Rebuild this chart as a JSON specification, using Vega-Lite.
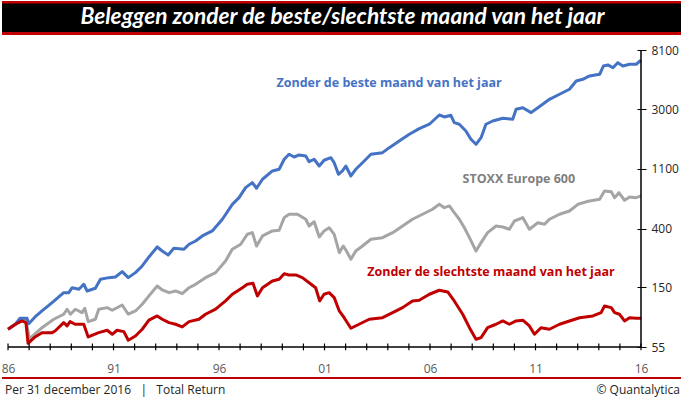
{
  "$schema": "https://vega.github.io/schema/vega-lite/v6.json",
  "padding": 0,
  "autosize": {"type": "pad"},
  "background": "white",
  "spacing": 15,
  "bounds": "flush",
  "config": {"view": {"stroke": null}, "font": "Open Sans", "axis": {"labelOverlap": false}},
  "datasets": {
    "reeksen": [
      {"jaar":1986.00,"waarde":74.1,"reeks":"stoxx"},{"jaar":1986.35,"waarde":80.6,"reeks":"stoxx"},{"jaar":1986.66,"waarde":86.7,"reeks":"stoxx"},{"jaar":1986.85,"waarde":87.4,"reeks":"stoxx"},{"jaar":1987.01,"waarde":63.0,"reeks":"stoxx"},{"jaar":1987.28,"waarde":68.5,"reeks":"stoxx"},{"jaar":1987.61,"waarde":76.1,"reeks":"stoxx"},{"jaar":1988.17,"waarde":87.7,"reeks":"stoxx"},{"jaar":1988.64,"waarde":95.4,"reeks":"stoxx"},{"jaar":1988.80,"waarde":103.8,"reeks":"stoxx"},{"jaar":1988.96,"waarde":95.4,"reeks":"stoxx"},{"jaar":1989.19,"waarde":103.8,"reeks":"stoxx"},{"jaar":1989.51,"waarde":98.0,"reeks":"stoxx"},{"jaar":1989.64,"waarde":105.5,"reeks":"stoxx"},{"jaar":1989.80,"waarde":84.2,"reeks":"stoxx"},{"jaar":1990.14,"waarde":87.7,"reeks":"stoxx"},{"jaar":1990.30,"waarde":103.8,"reeks":"stoxx"},{"jaar":1990.70,"waarde":106.6,"reeks":"stoxx"},{"jaar":1990.94,"waarde":102.0,"reeks":"stoxx"},{"jaar":1991.41,"waarde":111.4,"reeks":"stoxx"},{"jaar":1991.70,"waarde":95.4,"reeks":"stoxx"},{"jaar":1992.04,"waarde":100.8,"reeks":"stoxx"},{"jaar":1992.36,"waarde":112.8,"reeks":"stoxx"},{"jaar":1992.68,"waarde":129.8,"reeks":"stoxx"},{"jaar":1993.07,"waarde":153.3,"reeks":"stoxx"},{"jaar":1993.31,"waarde":143.5,"reeks":"stoxx"},{"jaar":1993.63,"waarde":137.1,"reeks":"stoxx"},{"jaar":1993.94,"waarde":141.1,"reeks":"stoxx"},{"jaar":1994.26,"waarde":134.8,"reeks":"stoxx"},{"jaar":1994.58,"waarde":149.0,"reeks":"stoxx"},{"jaar":1994.89,"waarde":157.8,"reeks":"stoxx"},{"jaar":1995.36,"waarde":176.5,"reeks":"stoxx"},{"jaar":1995.84,"waarde":192.0,"reeks":"stoxx"},{"jaar":1996.31,"waarde":233.7,"reeks":"stoxx"},{"jaar":1996.63,"waarde":284.5,"reeks":"stoxx"},{"jaar":1997.03,"waarde":309.4,"reeks":"stoxx"},{"jaar":1997.34,"waarde":365.7,"reeks":"stoxx"},{"jaar":1997.58,"waarde":375.9,"reeks":"stoxx"},{"jaar":1997.78,"waarde":300.4,"reeks":"stoxx"},{"jaar":1998.06,"waarde":355.7,"reeks":"stoxx"},{"jaar":1998.53,"waarde":387.0,"reeks":"stoxx"},{"jaar":1998.85,"waarde":391.5,"reeks":"stoxx"},{"jaar":1999.09,"waarde":483.8,"reeks":"stoxx"},{"jaar":1999.32,"waarde":512.3,"reeks":"stoxx"},{"jaar":1999.72,"waarde":512.3,"reeks":"stoxx"},{"jaar":2000.11,"waarde":471.1,"reeks":"stoxx"},{"jaar":2000.27,"waarde":420.4,"reeks":"stoxx"},{"jaar":2000.51,"waarde":451.8,"reeks":"stoxx"},{"jaar":2000.75,"waarde":349.8,"reeks":"stoxx"},{"jaar":2000.98,"waarde":387.0,"reeks":"stoxx"},{"jaar":2001.22,"waarde":408.5,"reeks":"stoxx"},{"jaar":2001.46,"waarde":365.7,"reeks":"stoxx"},{"jaar":2001.70,"waarde":268.5,"reeks":"stoxx"},{"jaar":2001.89,"waarde":300.4,"reeks":"stoxx"},{"jaar":2002.04,"waarde":276.3,"reeks":"stoxx"},{"jaar":2002.25,"waarde":240.4,"reeks":"stoxx"},{"jaar":2002.48,"waarde":276.3,"reeks":"stoxx"},{"jaar":2002.80,"waarde":300.4,"reeks":"stoxx"},{"jaar":2003.20,"waarde":336.3,"reeks":"stoxx"},{"jaar":2003.75,"waarde":345.7,"reeks":"stoxx"},{"jaar":2004.23,"waarde":375.9,"reeks":"stoxx"},{"jaar":2004.70,"waarde":420.4,"reeks":"stoxx"},{"jaar":2005.17,"waarde":471.1,"reeks":"stoxx"},{"jaar":2005.65,"waarde":512.3,"reeks":"stoxx"},{"jaar":2006.12,"waarde":557.0,"reeks":"stoxx"},{"jaar":2006.44,"waarde":605.4,"reeks":"stoxx"},{"jaar":2006.68,"waarde":572.5,"reeks":"stoxx"},{"jaar":2006.92,"waarde":588.9,"reeks":"stoxx"},{"jaar":2007.15,"waarde":526.3,"reeks":"stoxx"},{"jaar":2007.39,"waarde":471.1,"reeks":"stoxx"},{"jaar":2007.63,"waarde":408.5,"reeks":"stoxx"},{"jaar":2007.87,"waarde":345.7,"reeks":"stoxx"},{"jaar":2008.18,"waarde":276.3,"reeks":"stoxx"},{"jaar":2008.42,"waarde":317.9,"reeks":"stoxx"},{"jaar":2008.73,"waarde":375.9,"reeks":"stoxx"},{"jaar":2009.13,"waarde":420.4,"reeks":"stoxx"},{"jaar":2009.45,"waarde":413.4,"reeks":"stoxx"},{"jaar":2009.76,"waarde":398.0,"reeks":"stoxx"},{"jaar":2010.00,"waarde":457.2,"reeks":"stoxx"},{"jaar":2010.40,"waarde":483.8,"reeks":"stoxx"},{"jaar":2010.71,"waarde":398.0,"reeks":"stoxx"},{"jaar":2011.11,"waarde":444.3,"reeks":"stoxx"},{"jaar":2011.43,"waarde":432.5,"reeks":"stoxx"},{"jaar":2011.66,"waarde":471.1,"reeks":"stoxx"},{"jaar":2012.14,"waarde":512.3,"reeks":"stoxx"},{"jaar":2012.61,"waarde":541.2,"reeks":"stoxx"},{"jaar":2013.01,"waarde":605.4,"reeks":"stoxx"},{"jaar":2013.56,"waarde":640.7,"reeks":"stoxx"},{"jaar":2014.04,"waarde":658.9,"reeks":"stoxx"},{"jaar":2014.27,"waarde":757.7,"reeks":"stoxx"},{"jaar":2014.59,"waarde":748.5,"reeks":"stoxx"},{"jaar":2014.75,"waarde":676.7,"reeks":"stoxx"},{"jaar":2014.95,"waarde":735.9,"reeks":"stoxx"},{"jaar":2015.22,"waarde":648.2,"reeks":"stoxx"},{"jaar":2015.46,"waarde":685.0,"reeks":"stoxx"},{"jaar":2015.77,"waarde":676.7,"reeks":"stoxx"},{"jaar":2016.00,"waarde":696.8,"reeks":"stoxx"},
      {"jaar":1986.00,"waarde":74.1,"reeks":"beste"},{"jaar":1986.35,"waarde":80.6,"reeks":"beste"},{"jaar":1986.57,"waarde":89.2,"reeks":"beste"},{"jaar":1986.90,"waarde":89.2,"reeks":"beste"},{"jaar":1986.98,"waarde":81.4,"reeks":"beste"},{"jaar":1987.28,"waarde":91.1,"reeks":"beste"},{"jaar":1987.61,"waarde":100.8,"reeks":"beste"},{"jaar":1988.09,"waarde":116.0,"reeks":"beste"},{"jaar":1988.64,"waarde":137.1,"reeks":"beste"},{"jaar":1988.88,"waarde":137.1,"reeks":"beste"},{"jaar":1989.04,"waarde":149.0,"reeks":"beste"},{"jaar":1989.36,"waarde":145.2,"reeks":"beste"},{"jaar":1989.59,"waarde":157.8,"reeks":"beste"},{"jaar":1989.75,"waarde":141.1,"reeks":"beste"},{"jaar":1990.14,"waarde":147.6,"reeks":"beste"},{"jaar":1990.38,"waarde":171.6,"reeks":"beste"},{"jaar":1990.78,"waarde":176.5,"reeks":"beste"},{"jaar":1991.09,"waarde":178.5,"reeks":"beste"},{"jaar":1991.41,"waarde":195.2,"reeks":"beste"},{"jaar":1991.70,"waarde":176.5,"reeks":"beste"},{"jaar":1992.04,"waarde":192.0,"reeks":"beste"},{"jaar":1992.36,"waarde":214.8,"reeks":"beste"},{"jaar":1992.68,"waarde":249.8,"reeks":"beste"},{"jaar":1993.07,"waarde":295.6,"reeks":"beste"},{"jaar":1993.31,"waarde":276.3,"reeks":"beste"},{"jaar":1993.59,"waarde":258.5,"reeks":"beste"},{"jaar":1993.86,"waarde":289.3,"reeks":"beste"},{"jaar":1994.34,"waarde":284.5,"reeks":"beste"},{"jaar":1994.58,"waarde":309.4,"reeks":"beste"},{"jaar":1994.89,"waarde":326.9,"reeks":"beste"},{"jaar":1995.21,"waarde":355.7,"reeks":"beste"},{"jaar":1995.68,"waarde":387.0,"reeks":"beste"},{"jaar":1996.16,"waarde":471.1,"reeks":"beste"},{"jaar":1996.63,"waarde":605.4,"reeks":"beste"},{"jaar":1996.95,"waarde":676.7,"reeks":"beste"},{"jaar":1997.26,"waarde":800.9,"reeks":"beste"},{"jaar":1997.58,"waarde":871.4,"reeks":"beste"},{"jaar":1997.78,"waarde":793.0,"reeks":"beste"},{"jaar":1998.06,"waarde":922.2,"reeks":"beste"},{"jaar":1998.53,"waarde":1060.8,"reeks":"beste"},{"jaar":1998.85,"waarde":1090.9,"reeks":"beste"},{"jaar":1999.09,"waarde":1291.4,"reeks":"beste"},{"jaar":1999.32,"waarde":1404.5,"reeks":"beste"},{"jaar":1999.56,"waarde":1340.9,"reeks":"beste"},{"jaar":1999.80,"waarde":1387.7,"reeks":"beste"},{"jaar":2000.11,"waarde":1363.9,"reeks":"beste"},{"jaar":2000.27,"waarde":1239.5,"reeks":"beste"},{"jaar":2000.51,"waarde":1291.4,"reeks":"beste"},{"jaar":2000.75,"waarde":1152.3,"reeks":"beste"},{"jaar":2000.98,"waarde":1269.9,"reeks":"beste"},{"jaar":2001.30,"waarde":1326.0,"reeks":"beste"},{"jaar":2001.46,"waarde":1218.0,"reeks":"beste"},{"jaar":2001.66,"waarde":1002.4,"reeks":"beste"},{"jaar":2001.85,"waarde":1060.8,"reeks":"beste"},{"jaar":2002.01,"waarde":1152.3,"reeks":"beste"},{"jaar":2002.25,"waarde":975.1,"reeks":"beste"},{"jaar":2002.48,"waarde":1090.9,"reeks":"beste"},{"jaar":2002.80,"waarde":1218.0,"reeks":"beste"},{"jaar":2003.20,"waarde":1404.5,"reeks":"beste"},{"jaar":2003.75,"waarde":1442.7,"reeks":"beste"},{"jaar":2004.07,"waarde":1569.3,"reeks":"beste"},{"jaar":2004.54,"waarde":1756.1,"reeks":"beste"},{"jaar":2005.02,"waarde":1965.1,"reeks":"beste"},{"jaar":2005.49,"waarde":2159.5,"reeks":"beste"},{"jaar":2005.97,"waarde":2325.4,"reeks":"beste"},{"jaar":2006.44,"waarde":2715.8,"reeks":"beste"},{"jaar":2006.68,"waarde":2628.6,"reeks":"beste"},{"jaar":2006.99,"waarde":2702.6,"reeks":"beste"},{"jaar":2007.15,"waarde":2388.4,"reeks":"beste"},{"jaar":2007.39,"waarde":2325.4,"reeks":"beste"},{"jaar":2007.70,"waarde":2077.5,"reeks":"beste"},{"jaar":2007.94,"waarde":1805.8,"reeks":"beste"},{"jaar":2008.18,"waarde":1660.1,"reeks":"beste"},{"jaar":2008.42,"waarde":1855.8,"reeks":"beste"},{"jaar":2008.65,"waarde":2325.4,"reeks":"beste"},{"jaar":2008.97,"waarde":2455.2,"reeks":"beste"},{"jaar":2009.45,"waarde":2572.3,"reeks":"beste"},{"jaar":2009.92,"waarde":2528.9,"reeks":"beste"},{"jaar":2010.08,"waarde":2988.8,"reeks":"beste"},{"jaar":2010.40,"waarde":3070.2,"reeks":"beste"},{"jaar":2010.79,"waarde":2826.1,"reeks":"beste"},{"jaar":2011.11,"waarde":3070.2,"reeks":"beste"},{"jaar":2011.34,"waarde":3250.6,"reeks":"beste"},{"jaar":2011.66,"waarde":3535.6,"reeks":"beste"},{"jaar":2012.14,"waarde":3850.3,"reeks":"beste"},{"jaar":2012.61,"waarde":4187.5,"reeks":"beste"},{"jaar":2012.93,"waarde":4813.7,"reeks":"beste"},{"jaar":2013.24,"waarde":4948.5,"reeks":"beste"},{"jaar":2013.56,"waarde":5237.3,"reeks":"beste"},{"jaar":2014.04,"waarde":5386.3,"reeks":"beste"},{"jaar":2014.22,"waarde":6193.4,"reeks":"beste"},{"jaar":2014.43,"waarde":6301.0,"reeks":"beste"},{"jaar":2014.67,"waarde":6015.7,"reeks":"beste"},{"jaar":2014.90,"waarde":6546.3,"reeks":"beste"},{"jaar":2015.14,"waarde":6193.4,"reeks":"beste"},{"jaar":2015.46,"waarde":6375.1,"reeks":"beste"},{"jaar":2015.77,"waarde":6375.1,"reeks":"beste"},{"jaar":2016.00,"waarde":6815.8,"reeks":"beste"},
      {"jaar":1986.00,"waarde":74.1,"reeks":"slechtste"},{"jaar":1986.35,"waarde":80.6,"reeks":"slechtste"},{"jaar":1986.66,"waarde":85.2,"reeks":"slechtste"},{"jaar":1986.85,"waarde":82.8,"reeks":"slechtste"},{"jaar":1986.95,"waarde":58.5,"reeks":"slechtste"},{"jaar":1987.28,"waarde":65.1,"reeks":"slechtste"},{"jaar":1987.61,"waarde":70.0,"reeks":"slechtste"},{"jaar":1988.09,"waarde":70.0,"reeks":"slechtste"},{"jaar":1988.23,"waarde":72.0,"reeks":"slechtste"},{"jaar":1988.64,"waarde":82.8,"reeks":"slechtste"},{"jaar":1988.80,"waarde":78.4,"reeks":"slechtste"},{"jaar":1988.94,"waarde":84.2,"reeks":"slechtste"},{"jaar":1989.18,"waarde":80.6,"reeks":"slechtste"},{"jaar":1989.59,"waarde":80.6,"reeks":"slechtste"},{"jaar":1989.80,"waarde":65.1,"reeks":"slechtste"},{"jaar":1990.30,"waarde":70.0,"reeks":"slechtste"},{"jaar":1990.70,"waarde":72.9,"reeks":"slechtste"},{"jaar":1990.94,"waarde":68.1,"reeks":"slechtste"},{"jaar":1991.17,"waarde":72.9,"reeks":"slechtste"},{"jaar":1991.49,"waarde":71.2,"reeks":"slechtste"},{"jaar":1991.70,"waarde":61.6,"reeks":"slechtste"},{"jaar":1992.04,"waarde":66.2,"reeks":"slechtste"},{"jaar":1992.36,"waarde":74.1,"reeks":"slechtste"},{"jaar":1992.68,"waarde":86.3,"reeks":"slechtste"},{"jaar":1993.07,"waarde":92.7,"reeks":"slechtste"},{"jaar":1993.31,"waarde":87.7,"reeks":"slechtste"},{"jaar":1993.63,"waarde":82.8,"reeks":"slechtste"},{"jaar":1993.94,"waarde":80.6,"reeks":"slechtste"},{"jaar":1994.26,"waarde":77.1,"reeks":"slechtste"},{"jaar":1994.58,"waarde":84.2,"reeks":"slechtste"},{"jaar":1995.05,"waarde":87.7,"reeks":"slechtste"},{"jaar":1995.36,"waarde":95.4,"reeks":"slechtste"},{"jaar":1995.84,"waarde":103.8,"reeks":"slechtste"},{"jaar":1996.31,"waarde":119.3,"reeks":"slechtste"},{"jaar":1996.63,"waarde":133.5,"reeks":"slechtste"},{"jaar":1997.11,"waarde":149.0,"reeks":"slechtste"},{"jaar":1997.34,"waarde":157.8,"reeks":"slechtste"},{"jaar":1997.61,"waarde":160.5,"reeks":"slechtste"},{"jaar":1997.82,"waarde":129.8,"reeks":"slechtste"},{"jaar":1998.06,"waarde":149.0,"reeks":"slechtste"},{"jaar":1998.53,"waarde":166.7,"reeks":"slechtste"},{"jaar":1998.85,"waarde":171.6,"reeks":"slechtste"},{"jaar":1999.09,"waarde":188.3,"reeks":"slechtste"},{"jaar":1999.32,"waarde":184.6,"reeks":"slechtste"},{"jaar":1999.64,"waarde":184.6,"reeks":"slechtste"},{"jaar":1999.95,"waarde":176.5,"reeks":"slechtste"},{"jaar":2000.27,"waarde":162.1,"reeks":"slechtste"},{"jaar":2000.58,"waarde":149.0,"reeks":"slechtste"},{"jaar":2000.77,"waarde":119.3,"reeks":"slechtste"},{"jaar":2000.98,"waarde":133.5,"reeks":"slechtste"},{"jaar":2001.22,"waarde":137.1,"reeks":"slechtste"},{"jaar":2001.46,"waarde":126.1,"reeks":"slechtste"},{"jaar":2001.70,"waarde":100.8,"reeks":"slechtste"},{"jaar":2001.93,"waarde":90.0,"reeks":"slechtste"},{"jaar":2002.25,"waarde":75.4,"reeks":"slechtste"},{"jaar":2002.64,"waarde":80.6,"reeks":"slechtste"},{"jaar":2003.12,"waarde":87.7,"reeks":"slechtste"},{"jaar":2003.75,"waarde":90.0,"reeks":"slechtste"},{"jaar":2004.23,"waarde":98.0,"reeks":"slechtste"},{"jaar":2004.70,"waarde":106.6,"reeks":"slechtste"},{"jaar":2005.17,"waarde":119.3,"reeks":"slechtste"},{"jaar":2005.49,"waarde":120.6,"reeks":"slechtste"},{"jaar":2005.97,"waarde":133.5,"reeks":"slechtste"},{"jaar":2006.44,"waarde":142.8,"reeks":"slechtste"},{"jaar":2006.84,"waarde":138.7,"reeks":"slechtste"},{"jaar":2007.15,"waarde":119.3,"reeks":"slechtste"},{"jaar":2007.55,"waarde":95.4,"reeks":"slechtste"},{"jaar":2007.87,"waarde":76.1,"reeks":"slechtste"},{"jaar":2008.18,"waarde":62.7,"reeks":"slechtste"},{"jaar":2008.42,"waarde":64.4,"reeks":"slechtste"},{"jaar":2008.73,"waarde":76.1,"reeks":"slechtste"},{"jaar":2009.13,"waarde":80.6,"reeks":"slechtste"},{"jaar":2009.45,"waarde":85.2,"reeks":"slechtste"},{"jaar":2009.76,"waarde":80.6,"reeks":"slechtste"},{"jaar":2010.08,"waarde":85.2,"reeks":"slechtste"},{"jaar":2010.40,"waarde":86.3,"reeks":"slechtste"},{"jaar":2010.71,"waarde":78.4,"reeks":"slechtste"},{"jaar":2010.95,"waarde":68.1,"reeks":"slechtste"},{"jaar":2011.26,"waarde":76.1,"reeks":"slechtste"},{"jaar":2011.66,"waarde":74.1,"reeks":"slechtste"},{"jaar":2012.14,"waarde":80.6,"reeks":"slechtste"},{"jaar":2012.61,"waarde":85.2,"reeks":"slechtste"},{"jaar":2013.09,"waarde":90.0,"reeks":"slechtste"},{"jaar":2013.72,"waarde":92.7,"reeks":"slechtste"},{"jaar":2014.11,"waarde":98.0,"reeks":"slechtste"},{"jaar":2014.27,"waarde":109.6,"reeks":"slechtste"},{"jaar":2014.59,"waarde":106.6,"reeks":"slechtste"},{"jaar":2014.75,"waarde":98.0,"reeks":"slechtste"},{"jaar":2014.98,"waarde":95.4,"reeks":"slechtste"},{"jaar":2015.22,"waarde":85.2,"reeks":"slechtste"},{"jaar":2015.46,"waarde":90.0,"reeks":"slechtste"},{"jaar":2015.77,"waarde":89.2,"reeks":"slechtste"},{"jaar":2016.00,"waarde":89.2,"reeks":"slechtste"}
    ],
    "labels": [
      {"reeks":"beste","label":"Zonder de beste maand van het jaar","jaar":2004.06,"waarde":4679},
      {"reeks":"stoxx","label":"STOXX Europe 600","jaar":2010.21,"waarde":932},
      {"reeks":"slechtste","label":"Zonder de slechtste maand van het jaar","jaar":2008.89,"waarde":194}
    ],
    "jaren": [
      {"jaar":1986},{"jaar":1987},{"jaar":1988},{"jaar":1989},{"jaar":1990},{"jaar":1991},{"jaar":1992},{"jaar":1993},{"jaar":1994},{"jaar":1995},{"jaar":1996},{"jaar":1997},{"jaar":1998},{"jaar":1999},{"jaar":2000},{"jaar":2001},{"jaar":2002},{"jaar":2003},{"jaar":2004},{"jaar":2005},{"jaar":2006},{"jaar":2007},{"jaar":2008},{"jaar":2009},{"jaar":2010},{"jaar":2011},{"jaar":2012},{"jaar":2013},{"jaar":2014},{"jaar":2015},{"jaar":2016}
    ]
  },
  "vconcat": [
    {
      "width": 681,
      "height": 34,
      "view": {"fill": "#000000", "stroke": null},
      "data": {"values": [{"titel": "Beleggen zonder de beste/slechtste maand van het jaar"}]},
      "layer": [
        {"mark": {"type": "rule", "color": "#C00000", "strokeWidth": 2.5},
         "encoding": {"y": {"datum": 32.75, "type": "quantitative", "scale": {"domain": [0, 34], "nice": false, "zero": false}, "axis": null}}},
        {"mark": {"type": "rule", "color": "#C00000", "strokeWidth": 3},
         "encoding": {"y": {"datum": 1.5, "type": "quantitative", "axis": null}}},
        {"mark": {"type": "text", "color": "#FFFFFF", "font": "Lato", "fontSize": 22.7, "fontWeight": "bold", "fontStyle": "italic", "baseline": "middle", "align": "center", "dy": -1},
         "encoding": {"text": {"field": "titel", "type": "nominal"}}}
      ]
    },
    {
      "width": 639,
      "height": 297,
      "layer": [
        {
          "data": {"name": "reeksen"},
          "mark": {"type": "line", "strokeWidth": 3, "strokeJoin": "round"},
          "encoding": {
            "x": {"field": "jaar", "type": "quantitative",
                  "scale": {"domain": [1985.715, 2016], "nice": false, "zero": false},
                  "axis": {"orient": "bottom", "title": null, "values": [1986, 1991, 1996, 2001, 2006, 2011, 2016], "format": "d",
                           "labelExpr": "substring(toString(datum.value), 2, 4)",
                           "offset": -3, "ticks": false, "domain": false, "grid": false,
                           "labelOverlap": false, "labelFlush": false, "labelFont": "Open Sans", "labelFontSize": 12, "labelColor": "#595959", "labelPadding": 19}},
            "y": {"field": "waarde", "type": "quantitative",
                  "scale": {"type": "log", "domain": [55, 8100], "nice": false},
                  "axis": {"orient": "right", "title": null, "values": [55, 150, 400, 1100, 3000, 8100], "format": "d",
                           "offset": -4, "tickSize": 9, "tickColor": "#000000", "tickWidth": 1, "domain": false, "grid": false,
                           "labelFont": "Open Sans", "labelFontSize": 12, "labelColor": "#262626", "labelPadding": 5, "labelFlush": false, "labelOverlap": false}},
            "color": {"field": "reeks", "type": "nominal",
                      "scale": {"domain": ["stoxx", "beste", "slechtste"], "range": ["#A5A5A5", "#4472C4", "#C00000"]},
                      "legend": null}
          }
        },
        {
          "data": {"name": "labels"},
          "mark": {"type": "text", "font": "Open Sans", "fontSize": 12.5, "fontWeight": "bold", "baseline": "middle", "align": "center"},
          "encoding": {
            "x": {"field": "jaar", "type": "quantitative"},
            "y": {"field": "waarde", "type": "quantitative"},
            "text": {"field": "label", "type": "nominal"},
            "color": {"field": "reeks", "type": "nominal",
                      "scale": {"domain": ["stoxx", "beste", "slechtste"], "range": ["#7F7F7F", "#4472C4", "#C00000"]},
                      "legend": null}
          }
        },
        {
          "data": {"name": "jaren"},
          "mark": {"type": "rule", "color": "#000000", "strokeWidth": 1.2},
          "encoding": {"x": {"field": "jaar", "type": "quantitative"}, "y": {"datum": 52, "type": "quantitative"}, "y2": {"datum": 58.3}}
        },
        {
          "data": {"values": [{}]},
          "mark": {"type": "rule", "color": "#000000", "strokeWidth": 1.5},
          "encoding": {"x": {"datum": 1986, "type": "quantitative"}, "x2": {"datum": 2016}, "y": {"datum": 55, "type": "quantitative"}}
        },
        {
          "data": {"values": [{}]},
          "mark": {"type": "rule", "color": "#000000", "strokeWidth": 1.5},
          "encoding": {"x": {"datum": 2016, "type": "quantitative"}, "y": {"datum": 55, "type": "quantitative"}, "y2": {"datum": 8100}}
        }
      ],
      "resolve": {"scale": {"color": "independent"}}
    },
    {
      "width": 681,
      "height": 38,
      "data": {"values": [{"links": "Per 31 december 2016 \u00a0\u00a0|\u00a0\u00a0 Total Return", "rechts": "© Quantalytica"}]},
      "layer": [
        {"mark": {"type": "rule", "color": "#C00000", "strokeWidth": 2},
         "encoding": {"y": {"datum": 16, "type": "quantitative", "scale": {"domain": [0, 38], "reverse": true, "nice": false, "zero": false}, "axis": null}}},
        {"mark": {"type": "text", "align": "left", "baseline": "middle", "font": "Open Sans", "fontSize": 12, "color": "#262626", "dx": 3},
         "encoding": {"x": {"datum": 0, "type": "quantitative", "scale": {"domain": [0, 1], "nice": false}, "axis": null},
                      "y": {"datum": 28, "type": "quantitative", "axis": null},
                      "text": {"field": "links", "type": "nominal"}}},
        {"mark": {"type": "text", "align": "right", "baseline": "middle", "font": "Open Sans", "fontSize": 12, "color": "#262626", "dx": -3},
         "encoding": {"x": {"datum": 1, "type": "quantitative", "axis": null},
                      "y": {"datum": 28, "type": "quantitative", "axis": null},
                      "text": {"field": "rechts", "type": "nominal"}}}
      ]
    }
  ]
}
